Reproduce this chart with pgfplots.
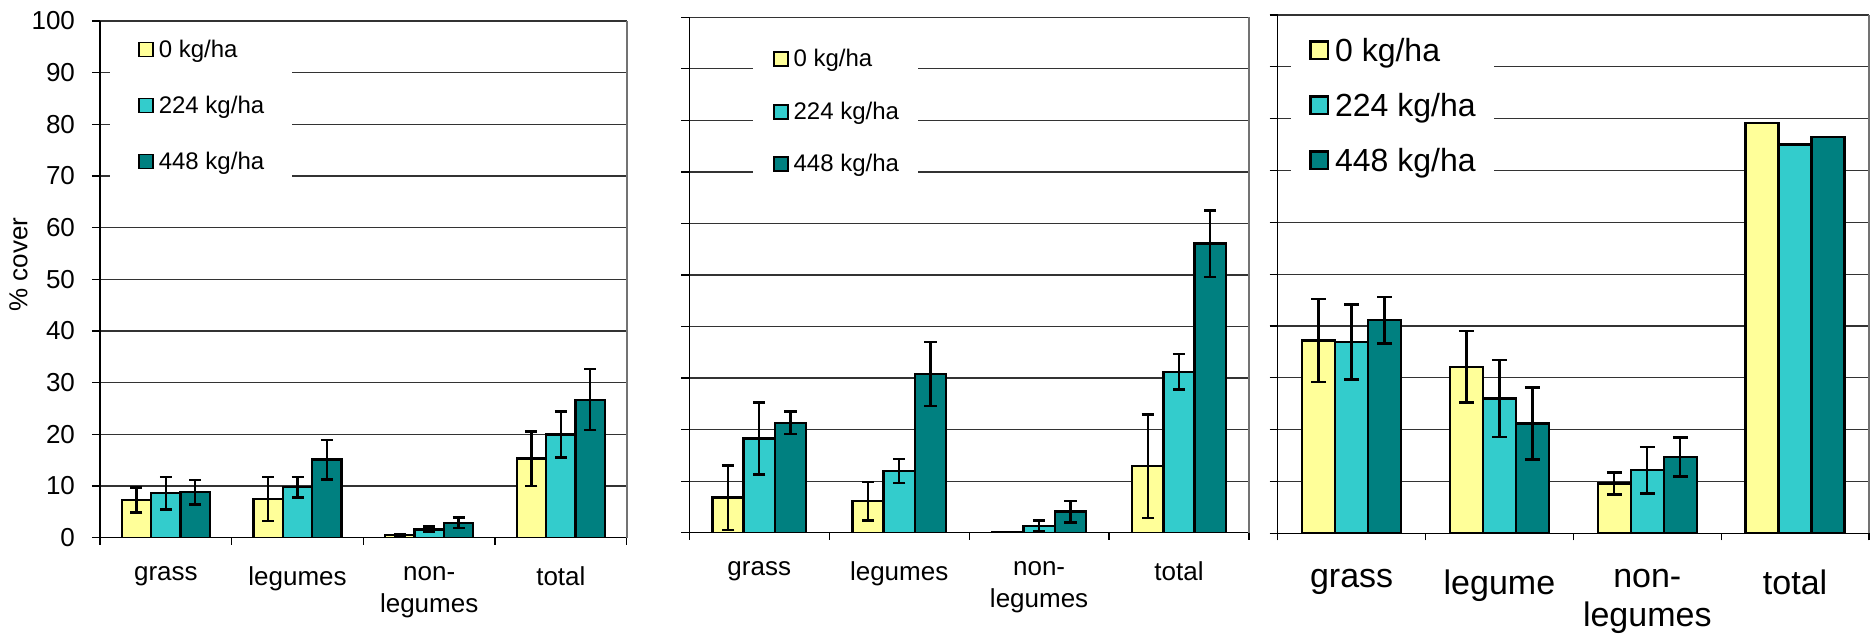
\documentclass[border=0pt]{standalone}
\usepackage{fontspec}
\setmainfont{Liberation Sans}
\usepackage{pgfplots}
\pgfplotsset{compat=1.18}
\definecolor{cY}{HTML}{FFFF99}
\definecolor{cC}{HTML}{33CCCC}
\definecolor{cD}{HTML}{008080}
\pgfplotsset{
  panel/.style={
    scale only axis,
    ybar=0pt,
    xmin=-0.5, xmax=3.5, ymin=0, ymax=100,
    axis lines=left, axis line style={-, black, line width=0.6pt},
    ytick={0,10,...,100},
    ymajorgrids, major grid style={black!80, line width=0.6pt},
    tick align=outside,
    major tick length=4pt, minor tick length=3.5pt,
    tick style={black, line width=0.6pt},
    xtick={0,1,2,3},
    major x tick style={draw=none},
    minor xtick={-0.5,0.5,1.5,2.5,3.5},
    extra x ticks={3.5}, extra x tick labels={},
    extra x tick style={grid=major, major grid style={black!55, line width=0.8pt}},
    xticklabel style={align=center},
    legend cell align=left,
    /pgf/number format/assume math mode=true,
  },
  sqA/.style={legend image code/.code={\draw[##1, draw=black, line width=0.9pt] (0pt,-2.7pt) rectangle (7pt,4.3pt);}},
  sqB/.style={legend image code/.code={\draw[##1, draw=black, line width=1.1pt] (0pt,-2.8pt) rectangle (8.75pt,5.95pt);}},
  eb/.style={draw=black, line width=1.2pt,
    error bars/y dir=both, error bars/y explicit,
    error bars/error bar style={line width=1.2pt, black},
    error bars/error mark options={black, rotate=90, mark size=#1, line width=1.2pt}},
}
\begin{document}
\begin{tikzpicture}
\useasboundingbox (0,0) rectangle (935pt,316.5pt);
% ---------- panel 1 ----------
\begin{axis}[panel, at={(50pt,47.65pt)}, anchor=south west,
  width=263.35pt, height=258.35pt,
  bar width=14.7pt,
  xticklabels={grass,legumes,non-\\legumes,total},
  xticklabel style={font=\fontsize{13}{15.8}\selectfont, yshift=-7pt},
  yticklabel style={font=\fontsize{13}{15.6}\selectfont, xshift=-5pt},
  ylabel={\% cover},
  ylabel style={font=\fontsize{13}{15.6}\selectfont, at={(rel axis cs:0,0.529)}, anchor=center, yshift=40.8pt},
  legend style={draw=none, fill=white, at={(rel axis cs:0.019,0.985)}, anchor=north west,
    inner xsep=13.8pt, inner ysep=5pt, row sep=16pt, /tikz/column sep=2.5pt,
    font=\fontsize{12}{14}\selectfont,
    nodes={inner xsep=0pt, inner ysep=0pt, text height=9pt, text depth=3pt}},
]
\addplot[fill=cY, eb=3pt, sqA] coordinates {(0,7.3) +- (0,2.45) (1,7.5) +- (0,4.3) (2,0.5) +- (0,0.15) (3,15.3) +- (0,5.25)};
\addplot[fill=cC, eb=3pt, sqA] coordinates {(0,8.6) +- (0,3.15) (1,9.8) +- (0,2.0) (2,1.6) +- (0,0.55) (3,20.0) +- (0,4.45)};
\addplot[fill=cD, eb=3pt, sqA] coordinates {(0,8.8) +- (0,2.35) (1,15.1) +- (0,3.8) (2,2.9) +- (0,1.0) (3,26.7) +- (0,5.9)};
\legend{0 kg/ha,224 kg/ha,448 kg/ha}
\end{axis}
% ---------- panel 2 ----------
\begin{axis}[panel, at={(344.65pt,50.15pt)}, anchor=south west,
  width=279.85pt, height=257.7pt,
  bar width=15.6pt,
  xticklabels={grass,legumes,non-\\legumes,total},
  xticklabel style={font=\fontsize{13}{15.8}\selectfont, yshift=-7pt},
  yticklabels={},
  legend style={draw=none, fill=white, at={(rel axis cs:0.1138,0.9587)}, anchor=north west,
    inner xsep=9.7pt, inner ysep=5pt, row sep=14.25pt, /tikz/column sep=2.5pt,
    font=\fontsize{12}{14}\selectfont,
    nodes={inner xsep=0pt, inner ysep=0pt, text height=9pt, text depth=3pt}},
]
\addplot[fill=cY, eb=3.1pt, sqA] coordinates {(0,6.8) +- (0,6.25) (1,6.1) +- (0,3.75) (2,0.1) +- (0,0) (3,12.9) +- (0,10.0)};
\addplot[fill=cC, eb=3.1pt, sqA] coordinates {(0,18.3) +- (0,7.0) (1,12.0) +- (0,2.3) (2,1.3) +- (0,1.1) (3,31.2) +- (0,3.45)};
\addplot[fill=cD, eb=3.1pt, sqA] coordinates {(0,21.3) +- (0,2.2) (1,30.8) +- (0,6.2) (2,4.1) +- (0,2.1) (3,56.1) +- (0,6.45)};
\legend{0 kg/ha,224 kg/ha,448 kg/ha}
\end{axis}
% ---------- panel 3 ----------
\begin{axis}[panel, at={(638.85pt,49.85pt)}, anchor=south west,
  width=295.65pt, height=259.15pt,
  bar width=16.5pt,
  xticklabels={grass,legume,non-\\legumes,total},
  xticklabel style={font=\fontsize{17}{19.2}\selectfont, yshift=-10.5pt},
  yticklabels={},
  legend style={draw=none, fill=white, at={(rel axis cs:0.0215,0.971)}, anchor=north west,
    inner xsep=9.3pt, inner ysep=4pt, row sep=12.5pt, /tikz/column sep=3pt,
    font=\fontsize{16}{19}\selectfont,
    nodes={inner xsep=0pt, inner ysep=0pt, text height=11.5pt, text depth=3.5pt}},
]
\addplot[fill=cY, eb=3.75pt, sqB] coordinates {(0,37.2) +- (0,8.0) (1,32.1) +- (0,6.9) (2,9.6) +- (0,2.1) (3,79.2) +- (0,0)};
\addplot[fill=cC, eb=3.75pt, sqB] coordinates {(0,36.9) +- (0,7.25) (1,26.0) +- (0,7.45) (2,12.2) +- (0,4.5) (3,75.0) +- (0,0)};
\addplot[fill=cD, eb=3.75pt, sqB] coordinates {(0,41.1) +- (0,4.5) (1,21.2) +- (0,6.95) (2,14.7) +- (0,3.75) (3,76.5) +- (0,0)};
\legend{0 kg/ha,224 kg/ha,448 kg/ha}
\end{axis}
\end{tikzpicture}
\end{document}
